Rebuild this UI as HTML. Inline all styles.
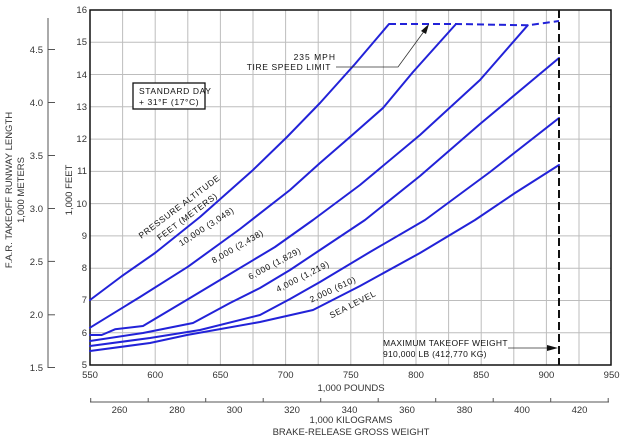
<!DOCTYPE html>
<html><head><style>
html,body{margin:0;padding:0;background:#fff;}
svg{display:block;font-family:"Liberation Sans",sans-serif;}
.t{font-size:9.5px;fill:#333;}
.a{font-size:8.5px;fill:#111;letter-spacing:0.6px;}
.c{fill:none;stroke:#2222d8;stroke-width:2;stroke-linejoin:round;stroke-linecap:round;}
</style></head><body>
<svg width="620" height="438" viewBox="0 0 620 438" xmlns="http://www.w3.org/2000/svg">
<g stroke="#bdbdbd" stroke-width="1">
<line x1="122.6" y1="10" x2="122.6" y2="365"/><line x1="155.2" y1="10" x2="155.2" y2="365"/><line x1="187.8" y1="10" x2="187.8" y2="365"/><line x1="220.4" y1="10" x2="220.4" y2="365"/><line x1="253" y1="10" x2="253" y2="365"/><line x1="285.6" y1="10" x2="285.6" y2="365"/><line x1="318.2" y1="10" x2="318.2" y2="365"/><line x1="350.8" y1="10" x2="350.8" y2="365"/><line x1="383.4" y1="10" x2="383.4" y2="365"/><line x1="416" y1="10" x2="416" y2="365"/><line x1="448.6" y1="10" x2="448.6" y2="365"/><line x1="481.2" y1="10" x2="481.2" y2="365"/><line x1="513.8" y1="10" x2="513.8" y2="365"/><line x1="546.4" y1="10" x2="546.4" y2="365"/><line x1="579" y1="10" x2="579" y2="365"/>
<line x1="90" y1="42.3" x2="611" y2="42.3"/><line x1="90" y1="74.5" x2="611" y2="74.5"/><line x1="90" y1="106.8" x2="611" y2="106.8"/><line x1="90" y1="139.1" x2="611" y2="139.1"/><line x1="90" y1="171.4" x2="611" y2="171.4"/><line x1="90" y1="203.6" x2="611" y2="203.6"/><line x1="90" y1="235.9" x2="611" y2="235.9"/><line x1="90" y1="268.2" x2="611" y2="268.2"/><line x1="90" y1="300.5" x2="611" y2="300.5"/><line x1="90" y1="332.7" x2="611" y2="332.7"/>
</g>
<rect x="90" y="10" width="521" height="355" fill="none" stroke="#111" stroke-width="1.5"/>
<g class="t" text-anchor="end">
<text x="87" y="13">16</text><text x="87" y="45">15</text><text x="87" y="78">14</text><text x="87" y="110">13</text><text x="87" y="142">12</text><text x="87" y="174">11</text><text x="87" y="207">10</text><text x="87" y="239">9</text><text x="87" y="271">8</text><text x="87" y="303">7</text><text x="87" y="336">6</text><text x="87" y="368">5</text>
</g>
<g class="t" text-anchor="middle">
<text x="90" y="378">550</text><text x="155.2" y="378">600</text><text x="220.4" y="378">650</text><text x="285.6" y="378">700</text><text x="350.8" y="378">750</text><text x="416" y="378">800</text><text x="481.2" y="378">850</text><text x="546.4" y="378">900</text><text x="611.6" y="378">950</text>
<text x="351" y="391">1,000 POUNDS</text>
<text x="119.5" y="413">260</text><text x="177" y="413">280</text><text x="234.5" y="413">300</text><text x="292" y="413">320</text><text x="349.5" y="413">340</text><text x="407" y="413">360</text><text x="464.5" y="413">380</text><text x="522" y="413">400</text><text x="579.5" y="413">420</text>
<text x="351" y="423">1,000 KILOGRAMS</text>
<text x="351" y="435">BRAKE-RELEASE GROSS WEIGHT</text>
</g>
<g stroke="#555" stroke-width="1">
<line x1="90" y1="402" x2="609" y2="402"/>
<line x1="90.7" y1="398" x2="90.7" y2="402"/><line x1="148.2" y1="398" x2="148.2" y2="402"/><line x1="205.7" y1="398" x2="205.7" y2="402"/><line x1="263.2" y1="398" x2="263.2" y2="402"/><line x1="320.7" y1="398" x2="320.7" y2="402"/><line x1="378.2" y1="398" x2="378.2" y2="402"/><line x1="435.7" y1="398" x2="435.7" y2="402"/><line x1="493.2" y1="398" x2="493.2" y2="402"/><line x1="550.7" y1="398" x2="550.7" y2="402"/><line x1="608.2" y1="398" x2="608.2" y2="402"/>
<line x1="48" y1="18" x2="48" y2="368"/>
<line x1="48" y1="367.5" x2="55" y2="367.5"/><line x1="48" y1="314.8" x2="55" y2="314.8"/><line x1="48" y1="261.4" x2="55" y2="261.4"/><line x1="48" y1="208.5" x2="55" y2="208.5"/><line x1="48" y1="155.5" x2="55" y2="155.5"/><line x1="48" y1="102.5" x2="55" y2="102.5"/><line x1="48" y1="49.5" x2="55" y2="49.5"/>
</g>
<g class="t" text-anchor="end">
<text x="43" y="371">1.5</text><text x="43" y="318">2.0</text><text x="43" y="265">2.5</text><text x="43" y="212">3.0</text><text x="43" y="159">3.5</text><text x="43" y="106">4.0</text><text x="43" y="53">4.5</text>
</g>
<text class="t" transform="translate(72,190) rotate(-90)" text-anchor="middle">1,000 FEET</text>
<text class="t" transform="translate(12,190) rotate(-90)" text-anchor="middle">F.A.R. TAKEOFF RUNWAY LENGTH</text>
<text class="t" transform="translate(24,190) rotate(-90)" text-anchor="middle">1,000 METERS</text>
<polyline class="c" points="90,300 122,276 155,253 200,217 253,170 287,137 320,103 355,64 389,24"/>
<polyline class="c" points="90,327.7 140,297 188,266.7 240,229 290,190 320,163 350,137 383,108 413,72 456,24"/>
<polyline class="c" points="90,335 101.7,335 115,329.3 143,326 190,298 230,274 275,247 313,220 360,185 420,135 480,80 527.7,25.3"/>
<polyline class="c" points="90,341 143,333 193,323 230,303 260,288 290,270 320,250 365,220 420,176 480,124 559,58"/>
<polyline class="c" points="90,346 150,338 200,330 260,315 290,299 320,282 370,252 425,220 490,172 559,118"/>
<polyline class="c" points="90,351 150,343 187,335 260,322 313,310 360,286 420,253 475,220 515,193 559,165"/>
<polyline points="389,24 456,24 527.7,25.3 559,21" fill="none" stroke="#2222d8" stroke-width="2" stroke-dasharray="7,4"/>
<line x1="559" y1="10" x2="559" y2="365" stroke="#111" stroke-width="2" stroke-dasharray="8,4"/>
<rect x="133" y="83" width="72" height="26" fill="#fff" stroke="#111" stroke-width="1.3"/>
<text class="a" x="139" y="94">STANDARD DAY</text>
<text class="a" x="139" y="105">+ 31°F (17°C)</text>
<text class="a" x="336" y="60" text-anchor="end" style="letter-spacing:1px">235 MPH</text>
<text class="a" x="331" y="70" text-anchor="end">TIRE SPEED LIMIT</text>
<polyline points="336,67 398,67 425,30" fill="none" stroke="#333" stroke-width="0.8"/>
<polygon points="429,24 421,31 426,34" fill="#111"/>
<text class="a" x="383" y="346" style="letter-spacing:0.3px">MAXIMUM TAKEOFF WEIGHT</text>
<text class="a" x="383" y="357" style="letter-spacing:0.3px">910,000 LB (412,770 KG)</text>
<line x1="508" y1="348" x2="552" y2="348" stroke="#333" stroke-width="0.8"/>
<polygon points="558,348 547,345 547,351" fill="#111"/>
<g class="a" text-anchor="middle">
<text transform="translate(181,209) rotate(-37)">PRESSURE ALTITUDE</text>
<text transform="translate(189,219) rotate(-37)">FEET (METERS)</text>
<text transform="translate(208,229) rotate(-33)">10,000  (3,048)</text>
<text transform="translate(239,249) rotate(-30)">8,000  (2,438)</text>
<text transform="translate(276,266) rotate(-28)">6,000  (1,829)</text>
<text transform="translate(304,279) rotate(-27)">4,000  (1,219)</text>
<text transform="translate(334,292) rotate(-25)">2,000  (610)</text>
<text transform="translate(354,307) rotate(-27)">SEA LEVEL</text>
</g>
</svg>
</body></html>
